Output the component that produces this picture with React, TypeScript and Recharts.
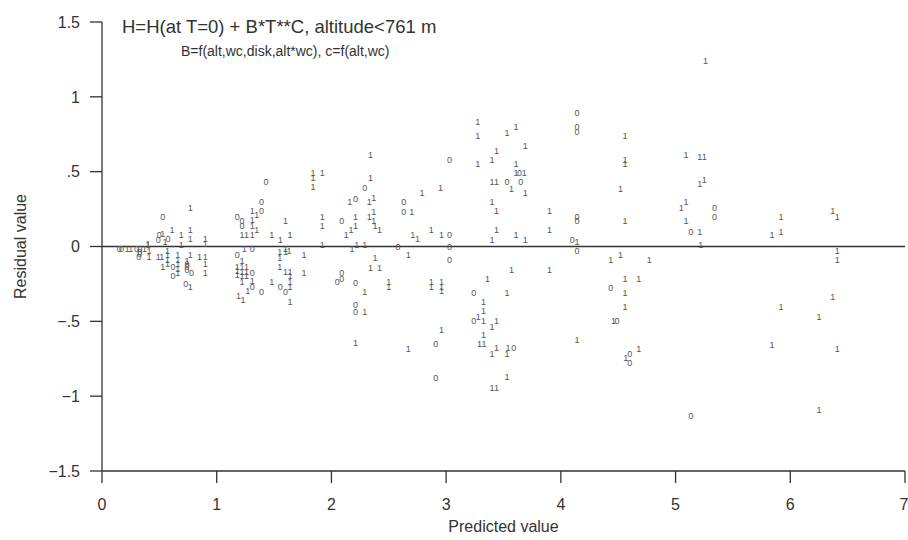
import React from 'react';
import {
  ScatterChart,
  Scatter,
  XAxis,
  YAxis,
  ReferenceLine,
  Label,
} from 'recharts';

// points plotted with the symbol "0"
const zeroPoints = [
  { x: 0.53, y: 0.2 }, { x: 0.5, y: 0.08 }, { x: 0.575, y: 0.05 }, { x: 0.49, y: 0.045 },
  { x: 0.15, y: -0.02 }, { x: 0.17, y: -0.02 }, { x: 0.3, y: -0.02 }, { x: 0.33, y: -0.02 },
  { x: 0.33, y: -0.035 }, { x: 0.33, y: -0.05 }, { x: 0.32, y: -0.07 },
  { x: 0.62, y: -0.14 }, { x: 0.62, y: -0.2 },
  { x: 0.74, y: -0.12 }, { x: 0.74, y: -0.14 }, { x: 0.74, y: -0.16 }, { x: 0.73, y: -0.25 }, { x: 0.78, y: -0.18 },
  { x: 1.43, y: 0.43 }, { x: 1.39, y: 0.3 }, { x: 1.39, y: 0.24 }, { x: 1.18, y: 0.2 },
  { x: 1.22, y: 0.17 }, { x: 1.22, y: 0.14 }, { x: 1.18, y: -0.055 }, { x: 1.31, y: -0.02 },
  { x: 1.31, y: -0.18 }, { x: 1.31, y: -0.27 }, { x: 1.39, y: -0.305 }, { x: 1.555, y: -0.27 }, { x: 1.6, y: -0.305 },
  { x: 3.03, y: 0.575 }, { x: 2.29, y: 0.39 }, { x: 2.21, y: 0.32 }, { x: 2.63, y: 0.3 }, { x: 2.63, y: 0.23 },
  { x: 2.09, y: 0.17 }, { x: 3.03, y: 0.075 }, { x: 3.03, y: 0.0 }, { x: 2.58, y: 0.0 }, { x: 3.03, y: -0.09 },
  { x: 2.09, y: -0.18 }, { x: 2.09, y: -0.215 }, { x: 2.05, y: -0.24 }, { x: 2.21, y: -0.245 },
  { x: 2.21, y: -0.39 }, { x: 2.21, y: -0.435 }, { x: 2.91, y: -0.65 }, { x: 2.91, y: -0.877 },
  { x: 3.64, y: 0.49 }, { x: 3.53, y: 0.43 }, { x: 3.65, y: 0.43 }, { x: 3.24, y: -0.31 }, { x: 3.24, y: -0.5 }, { x: 3.59, y: -0.68 },
  { x: 4.14, y: 0.89 }, { x: 4.14, y: 0.8 }, { x: 4.14, y: 0.765 }, { x: 4.14, y: 0.2 }, { x: 4.14, y: 0.17 },
  { x: 4.1, y: 0.045 }, { x: 4.14, y: -0.027 }, { x: 4.435, y: -0.275 }, { x: 4.49, y: -0.5 },
  { x: 4.6, y: -0.715 }, { x: 4.6, y: -0.78 },
  { x: 5.34, y: 0.26 }, { x: 5.34, y: 0.195 }, { x: 5.135, y: 0.1 }, { x: 5.135, y: -1.13 },
];

// points plotted with the symbol "1"
const onePoints = [
  { x: 0.77, y: 0.26 }, { x: 0.53, y: 0.085 }, { x: 0.61, y: 0.11 }, { x: 0.69, y: 0.08 }, { x: 0.77, y: 0.11 },
  { x: 0.4, y: 0.01 }, { x: 0.69, y: 0.01 }, { x: 0.77, y: 0.05 }, { x: 0.9, y: 0.05 }, { x: 0.9, y: 0.02 },
  { x: 0.55, y: 0.03 }, { x: 0.22, y: -0.02 }, { x: 0.25, y: -0.02 }, { x: 0.37, y: -0.02 }, { x: 0.4, y: 0.02 },
  { x: 0.41, y: -0.03 }, { x: 0.41, y: -0.07 }, { x: 0.49, y: -0.07 }, { x: 0.52, y: -0.07 },
  { x: 0.57, y: -0.03 }, { x: 0.57, y: -0.06 }, { x: 0.57, y: -0.09 }, { x: 0.57, y: -0.12 },
  { x: 0.66, y: -0.06 }, { x: 0.66, y: -0.09 }, { x: 0.66, y: -0.12 }, { x: 0.66, y: -0.15 }, { x: 0.66, y: -0.18 },
  { x: 0.53, y: -0.14 }, { x: 0.74, y: -0.1 }, { x: 0.77, y: -0.27 }, { x: 0.77, y: -0.06 },
  { x: 0.85, y: -0.07 }, { x: 0.9, y: -0.07 }, { x: 0.9, y: -0.12 }, { x: 0.9, y: -0.18 },
  { x: 1.84, y: 0.49 }, { x: 1.84, y: 0.46 }, { x: 1.84, y: 0.4 }, { x: 1.92, y: 0.49 },
  { x: 1.31, y: 0.24 }, { x: 1.35, y: 0.21 }, { x: 1.31, y: 0.18 }, { x: 1.31, y: 0.14 }, { x: 1.6, y: 0.17 },
  { x: 1.92, y: 0.2 }, { x: 1.92, y: 0.135 }, { x: 1.22, y: 0.08 }, { x: 1.26, y: 0.08 }, { x: 1.31, y: 0.08 },
  { x: 1.35, y: 0.11 }, { x: 1.48, y: 0.08 }, { x: 1.555, y: 0.045 }, { x: 1.64, y: 0.08 }, { x: 1.92, y: 0.01 },
  { x: 1.24, y: -0.02 }, { x: 1.6, y: -0.015 }, { x: 1.63, y: -0.027 }, { x: 1.55, y: -0.04 }, { x: 1.55, y: -0.08 },
  { x: 1.6, y: -0.04 }, { x: 1.76, y: -0.055 },
  { x: 1.18, y: -0.14 }, { x: 1.18, y: -0.165 }, { x: 1.18, y: -0.19 }, { x: 1.22, y: -0.1 }, { x: 1.22, y: -0.14 },
  { x: 1.22, y: -0.17 }, { x: 1.22, y: -0.2 }, { x: 1.22, y: -0.24 }, { x: 1.26, y: -0.14 }, { x: 1.26, y: -0.17 },
  { x: 1.26, y: -0.2 }, { x: 1.31, y: -0.23 }, { x: 1.48, y: -0.24 }, { x: 1.55, y: -0.14 }, { x: 1.6, y: -0.17 },
  { x: 1.64, y: -0.17 }, { x: 1.64, y: -0.2 }, { x: 1.64, y: -0.24 }, { x: 1.64, y: -0.27 }, { x: 1.76, y: -0.18 },
  { x: 1.27, y: -0.3 }, { x: 1.64, y: -0.37 }, { x: 1.19, y: -0.33 }, { x: 1.23, y: -0.36 },
  { x: 2.34, y: 0.61 }, { x: 2.34, y: 0.46 }, { x: 2.79, y: 0.36 }, { x: 2.95, y: 0.39 }, { x: 2.16, y: 0.3 },
  { x: 2.33, y: 0.3 }, { x: 2.37, y: 0.325 }, { x: 2.7, y: 0.23 }, { x: 2.21, y: 0.195 }, { x: 2.33, y: 0.195 },
  { x: 2.37, y: 0.23 }, { x: 2.37, y: 0.17 }, { x: 2.13, y: 0.075 }, { x: 2.17, y: 0.11 }, { x: 2.21, y: 0.135 },
  { x: 2.38, y: 0.14 }, { x: 2.42, y: 0.11 }, { x: 2.71, y: 0.08 }, { x: 2.75, y: 0.05 }, { x: 2.87, y: 0.11 },
  { x: 2.96, y: 0.075 }, { x: 2.18, y: -0.02 }, { x: 2.22, y: 0.01 }, { x: 2.29, y: 0.01 }, { x: 2.67, y: -0.055 },
  { x: 2.38, y: -0.08 }, { x: 2.34, y: -0.145 }, { x: 2.42, y: -0.145 }, { x: 2.5, y: -0.24 }, { x: 2.5, y: -0.27 },
  { x: 2.87, y: -0.24 }, { x: 2.87, y: -0.27 }, { x: 2.96, y: -0.24 }, { x: 2.96, y: -0.27 }, { x: 2.96, y: -0.3 },
  { x: 2.29, y: -0.305 }, { x: 2.29, y: -0.435 }, { x: 2.96, y: -0.555 }, { x: 2.21, y: -0.645 }, { x: 2.67, y: -0.685 },
  { x: 3.275, y: 0.83 }, { x: 3.275, y: 0.74 }, { x: 3.53, y: 0.76 }, { x: 3.61, y: 0.8 }, { x: 3.69, y: 0.67 },
  { x: 3.44, y: 0.64 }, { x: 3.275, y: 0.55 }, { x: 3.4, y: 0.575 }, { x: 3.61, y: 0.55 }, { x: 3.61, y: 0.49 },
  { x: 3.68, y: 0.49 }, { x: 3.4, y: 0.43 }, { x: 3.44, y: 0.43 }, { x: 3.57, y: 0.385 }, { x: 3.69, y: 0.36 },
  { x: 3.4, y: 0.3 }, { x: 3.44, y: 0.235 }, { x: 3.9, y: 0.235 }, { x: 3.44, y: 0.11 }, { x: 3.4, y: 0.045 },
  { x: 3.61, y: 0.08 }, { x: 3.69, y: 0.045 }, { x: 3.9, y: 0.11 },
  { x: 3.57, y: -0.155 }, { x: 3.9, y: -0.155 }, { x: 3.36, y: -0.22 }, { x: 3.53, y: -0.31 }, { x: 3.325, y: -0.37 },
  { x: 3.325, y: -0.43 }, { x: 3.28, y: -0.47 }, { x: 3.325, y: -0.5 }, { x: 3.4, y: -0.535 }, { x: 3.44, y: -0.5 },
  { x: 3.325, y: -0.59 }, { x: 3.29, y: -0.65 }, { x: 3.33, y: -0.65 }, { x: 3.4, y: -0.72 }, { x: 3.44, y: -0.68 },
  { x: 3.53, y: -0.72 }, { x: 3.54, y: -0.68 }, { x: 3.53, y: -0.87 }, { x: 3.4, y: -0.945 }, { x: 3.44, y: -0.945 },
  { x: 4.56, y: 0.735 }, { x: 4.56, y: 0.58 }, { x: 4.56, y: 0.55 }, { x: 5.09, y: 0.61 }, { x: 4.52, y: 0.385 },
  { x: 5.05, y: 0.26 }, { x: 5.09, y: 0.3 }, { x: 4.56, y: 0.17 }, { x: 5.09, y: 0.17 }, { x: 4.14, y: 0.03 },
  { x: 4.435, y: -0.09 }, { x: 4.52, y: -0.06 }, { x: 4.77, y: -0.09 }, { x: 4.56, y: -0.22 }, { x: 4.68, y: -0.22 },
  { x: 4.56, y: -0.31 }, { x: 4.56, y: -0.405 }, { x: 4.46, y: -0.5 }, { x: 4.14, y: -0.625 }, { x: 4.565, y: -0.745 },
  { x: 4.68, y: -0.685 },
  { x: 5.26, y: 1.24 }, { x: 5.21, y: 0.6 }, { x: 5.25, y: 0.6 }, { x: 5.21, y: 0.42 }, { x: 5.25, y: 0.445 },
  { x: 5.21, y: 0.1 }, { x: 5.22, y: 0.013 }, { x: 5.92, y: 0.195 }, { x: 5.84, y: 0.08 }, { x: 5.92, y: 0.1 },
  { x: 6.37, y: 0.235 }, { x: 6.41, y: 0.195 }, { x: 6.41, y: -0.027 }, { x: 6.41, y: -0.09 }, { x: 6.37, y: -0.34 },
  { x: 5.92, y: -0.405 }, { x: 6.25, y: -0.47 }, { x: 5.84, y: -0.655 }, { x: 6.41, y: -0.685 }, { x: 6.25, y: -1.095 },
];

const xTicks = [0, 1, 2, 3, 4, 5, 6, 7];
const yTicks = [-1.5, -1, -0.5, 0, 0.5, 1, 1.5];

const title = 'H=H(at T=0) + B*T**C, altitude<761 m';
const subtitle = 'B=f(alt,wc,disk,alt*wc), c=f(alt,wc)';

const AXIS = '#333';
const FONT = '"Liberation Sans", Arial, sans-serif';

const formatY = (v: number) => {
  const s = Math.abs(v) < 1 ? String(Math.abs(v)).replace(/^0\./, '.') : String(Math.abs(v));
  return v < 0 ? '\u2212' + s : s;
};

const symbol = (label: string) => (props: any) => {
  const { cx, cy } = props;
  if (cx == null || cy == null) return <g />;
  return (
    <text
      x={cx}
      y={cy}
      textAnchor='middle'
      dominantBaseline='central'
      fontSize={9}
      fontFamily={FONT}
      fill='#555'
    >
      {label}
    </text>
  );
};

const App: React.FC = () => {
  return (
    <div
      style={{
        position: 'absolute',
        left: 0,
        top: 0,
        width: 908,
        height: 540,
        background: '#fff',
        fontFamily: FONT,
      }}
    >
      <ScatterChart
        width={908}
        height={540}
        margin={{ top: 22, right: 3, left: 0, bottom: 0 }}
      >
        <XAxis
          type='number'
          dataKey='x'
          domain={[0, 7]}
          ticks={xTicks}
          allowDataOverflow
          height={69}
          stroke={AXIS}
          strokeWidth={1.3}
          tickSize={12}
          tickMargin={16}
          tick={{ fill: AXIS, fontSize: 16, fontFamily: FONT }}
        >
          <Label
            value='Predicted value'
            position='insideBottom'
            offset={8}
            style={{ fill: AXIS, fontSize: 16, fontFamily: FONT }}
          />
        </XAxis>
        <YAxis
          type='number'
          dataKey='y'
          domain={[-1.5, 1.5]}
          ticks={yTicks}
          allowDataOverflow
          width={102}
          stroke={AXIS}
          strokeWidth={1.3}
          tickSize={12}
          tickMargin={10}
          tickFormatter={formatY}
          tick={{ fill: AXIS, fontSize: 16, fontFamily: FONT }}
        >
          <Label
            value='Residual value'
            angle={-90}
            position='insideLeft'
            offset={20}
            style={{ fill: AXIS, fontSize: 16, fontFamily: FONT, textAnchor: 'middle' }}
          />
        </YAxis>
        <ReferenceLine y={0} stroke={AXIS} strokeWidth={1.3} ifOverflow='extendDomain' />
        <Scatter
          name='0'
          data={zeroPoints}
          shape={symbol('0')}
          isAnimationActive={false}
        />
        <Scatter
          name='1'
          data={onePoints}
          shape={symbol('1')}
          isAnimationActive={false}
        />
      </ScatterChart>
      <div
        style={{
          position: 'absolute',
          left: 122,
          top: 16,
          fontSize: 18.5,
          color: AXIS,
          whiteSpace: 'nowrap',
          lineHeight: '22px',
        }}
      >
        {title}
      </div>
      <div
        style={{
          position: 'absolute',
          left: 181,
          top: 44,
          fontSize: 14,
          color: AXIS,
          whiteSpace: 'nowrap',
          lineHeight: '15px',
        }}
      >
        {subtitle}
      </div>
    </div>
  );
};

export default App;
